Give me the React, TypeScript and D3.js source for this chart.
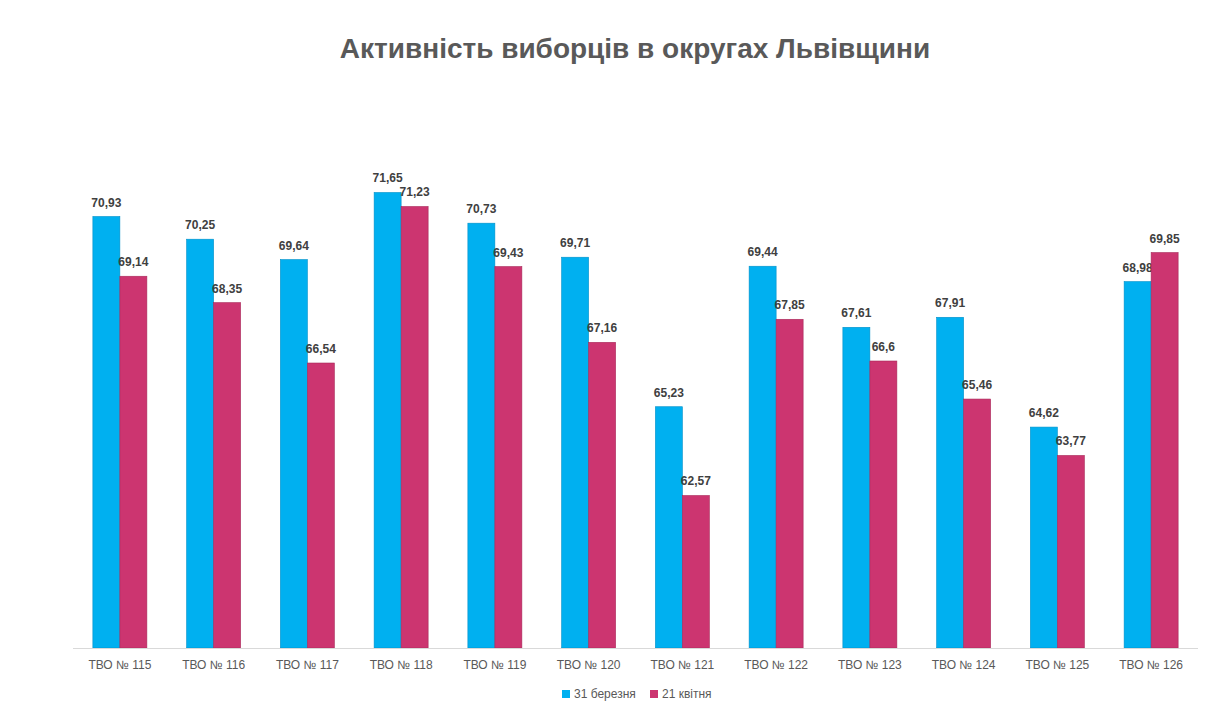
import React from 'react';
import * as d3 from 'd3';

const categories = ['ТВО № 115', 'ТВО № 116', 'ТВО № 117', 'ТВО № 118', 'ТВО № 119', 'ТВО № 120', 'ТВО № 121', 'ТВО № 122', 'ТВО № 123', 'ТВО № 124', 'ТВО № 125', 'ТВО № 126'];
const march31 = [70.93, 70.25, 69.64, 71.65, 70.73, 69.71, 65.23, 69.44, 67.61, 67.91, 64.62, 68.98];
const april21 = [69.14, 68.35, 66.54, 71.23, 69.43, 67.16, 62.57, 67.85, 66.6, 65.46, 63.77, 69.85];
const seriesNames = ['31 березня', '21 квітня'];
const colors = ['#00B0F0', '#CC3570'];

const W = 1221, H = 726;

export default function App() {
  const x = d3.scaleBand<string>().domain(categories).range([73, 1198]);
  const y = d3.scaleLinear().domain([58, 72]).range([648, 180.8]);
  const bw = 27;
  const fmt = (v: number) => String(v).replace('.', ',');
  const series = [march31, april21];

  return (
    <svg width={W} height={H} style={{ position: 'absolute', left: 0, top: 0, fontFamily: 'Liberation Sans, Arial, sans-serif' }}>
      <rect width={W} height={H} fill="#fff" />
      <text x={635} y={58} textAnchor="middle" fontSize={28} fontWeight="bold" fill="#595959"
        style={{ fontFamily: 'Liberation Sans Narrow, Arial Narrow, sans-serif' }}>
        Активність виборців в округах Львівщини
      </text>
      {categories.map((c, i) => {
        const cx = x(c)! + x.bandwidth() / 2;
        return (
          <g key={c}>
            {series.map((s, k) => {
              const bx = cx - bw + k * bw;
              return (
                <g key={k}>
                  <rect x={bx} y={y(s[i])} width={bw} height={648 - y(s[i])} fill={colors[k]}
                    stroke={k === 0 ? '#0090c8' : '#a82a5a'} strokeWidth={0.6} />
                  <text x={bx + bw / 2} y={y(s[i]) - 10} textAnchor="middle" fontSize={12} fontWeight="bold" fill="#404040">
                    {fmt(s[i])}
                  </text>
                </g>
              );
            })}
            <text x={cx} y={669} textAnchor="middle" fontSize={12} fill="#595959">{c}</text>
          </g>
        );
      })}
      <line x1={73} x2={1198} y1={648.5} y2={648.5} stroke="#d9d9d9" />
      {seriesNames.map((n, k) => (
        <g key={n} transform={`translate(${562 + k * 88},690)`}>
          <rect width={8} height={8} fill={colors[k]} />
          <text x={12} y={8} fontSize={12} fill="#595959">{n}</text>
        </g>
      ))}
    </svg>
  );
}
